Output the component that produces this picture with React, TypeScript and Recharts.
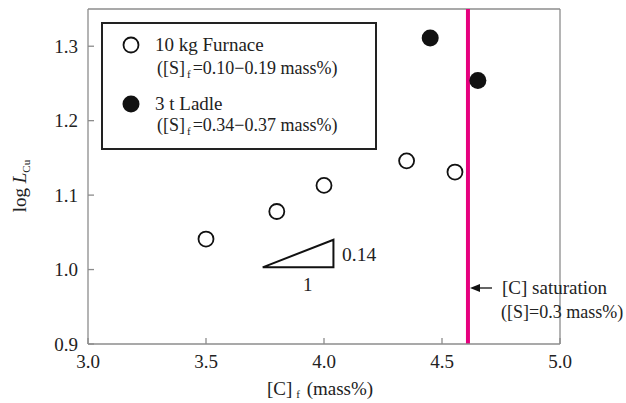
import {
  ReferenceLine,
  Scatter,
  ScatterChart,
  XAxis,
  YAxis,
} from "recharts";

const X_TICKS = [3.0, 3.5, 4.0, 4.5, 5.0];
const Y_TICKS = [0.9, 1.0, 1.1, 1.2, 1.3];

const FURNACE = [
  { c: 3.5, logL: 1.041 },
  { c: 3.8, logL: 1.078 },
  { c: 4.0, logL: 1.113 },
  { c: 4.35, logL: 1.146 },
  { c: 4.555, logL: 1.131 },
];
const LADLE = [
  { c: 4.45, logL: 1.311 },
  { c: 4.652, logL: 1.254 },
];
const SATURATION_C = 4.61;
const SLOPE_TRIANGLE = [
  { c: 3.74, logL: 1.003 },
  { c: 4.04, logL: 1.003 },
  { c: 4.04, logL: 1.04 },
  { c: 3.74, logL: 1.003 },
];

const FONT = "'Liberation Serif', 'Times New Roman', serif";
const AXIS_COLOR = "#8c8c8c";
const PINK = "#e6007e";
const TICK = { fill: "#222", fontSize: 19, fontFamily: FONT };

const OpenDot = (p: any) => (
  <circle cx={p.cx} cy={p.cy} r={7.5} fill="#fff" stroke="#111" strokeWidth={1.8} />
);
const FilledDot = (p: any) => <circle cx={p.cx} cy={p.cy} r={8.5} fill="#111" />;
const NoDot = () => null;

function Sub({ children }: { children: string }) {
  return (
    <tspan fontSize={11} dx={2} dy={4}>
      {children}
    </tspan>
  );
}

export default function App() {
  return (
    <div style={{ position: "relative", width: 626, height: 403, background: "#fff" }}>
      <style>{`body{margin:0}`}</style>
      <ScatterChart
        width={626}
        height={403}
        margin={{ top: 9, right: 66, bottom: 29, left: 28 }}
        style={{ fontFamily: FONT }}
      >
        <XAxis
          type="number"
          dataKey="c"
          domain={[3, 5]}
          ticks={X_TICKS}
          tickFormatter={(v) => v.toFixed(1)}
          tick={TICK}
          tickSize={-6}
          tickMargin={17}
          height={30}
          stroke={AXIS_COLOR}
          strokeWidth={1.3}
          allowDataOverflow
        />
        <YAxis
          type="number"
          dataKey="logL"
          domain={[0.9, 1.35]}
          ticks={Y_TICKS}
          tickFormatter={(v) => v.toFixed(1)}
          tick={TICK}
          tickSize={-6}
          tickMargin={16}
          width={60}
          stroke={AXIS_COLOR}
          strokeWidth={1.3}
          allowDataOverflow
        />
        <ReferenceLine y={1.35} stroke={AXIS_COLOR} strokeWidth={1.3} />
        <ReferenceLine x={5} stroke={AXIS_COLOR} strokeWidth={1.3} />
        <ReferenceLine x={SATURATION_C} stroke={PINK} strokeWidth={4} />
        <Scatter
          data={SLOPE_TRIANGLE}
          line={{ stroke: "#111", strokeWidth: 2 }}
          lineType="joint"
          shape={NoDot}
          isAnimationActive={false}
        />
        <Scatter data={FURNACE} shape={OpenDot} isAnimationActive={false} />
        <Scatter data={LADLE} shape={FilledDot} isAnimationActive={false} />
      </ScatterChart>

      <svg
        width={626}
        height={403}
        style={{ position: "absolute", left: 0, top: 0, pointerEvents: "none" }}
        fontFamily={FONT}
        fill="#222"
      >
        {/* legend */}
        <rect x={102} y={23} width={274} height={126} fill="none" stroke="#222" strokeWidth={2} />
        <circle cx={131} cy={45} r={7.5} fill="#fff" stroke="#111" strokeWidth={1.8} />
        <text x={155} y={51} fontSize={19}>10 kg Furnace</text>
        <text x={157} y={74} fontSize={18}>
          ([S]<Sub>f</Sub>
          <tspan dx={2} dy={-4}>=0.10−0.19 mass%)</tspan>
        </text>
        <circle cx={131} cy={104} r={8.5} fill="#111" />
        <text x={155} y={110} fontSize={19}>3 t Ladle</text>
        <text x={157} y={131} fontSize={18}>
          ([S]<Sub>f</Sub>
          <tspan dx={2} dy={-4}>=0.34−0.37 mass%)</tspan>
        </text>

        {/* slope labels */}
        <text x={342} y={261} fontSize={19.5}>0.14</text>
        <text x={303} y={291} fontSize={19}>1</text>

        {/* saturation note */}
        <line x1={492} y1={288} x2={478} y2={288} stroke="#111" strokeWidth={1.3} />
        <polygon points="470,288 480,284 480,292" fill="#111" />
        <text x={502} y={294} fontSize={19}>[C] saturation</text>
        <text x={501} y={318} fontSize={18}>([S]=0.3 mass%)</text>

        {/* axis titles */}
        <text x={320} y={395} fontSize={19} textAnchor="middle">
          [C]<tspan fontSize={11} dx={4} dy={3}>f</tspan>
          <tspan dx={2} dy={-3}> (mass%)</tspan>
        </text>
        <text transform="translate(26,186) rotate(-90)" fontSize={19} textAnchor="middle">
          log <tspan fontStyle="italic">L</tspan>
          <tspan fontSize={11} dy={4}>Cu</tspan>
        </text>
      </svg>
    </div>
  );
}
